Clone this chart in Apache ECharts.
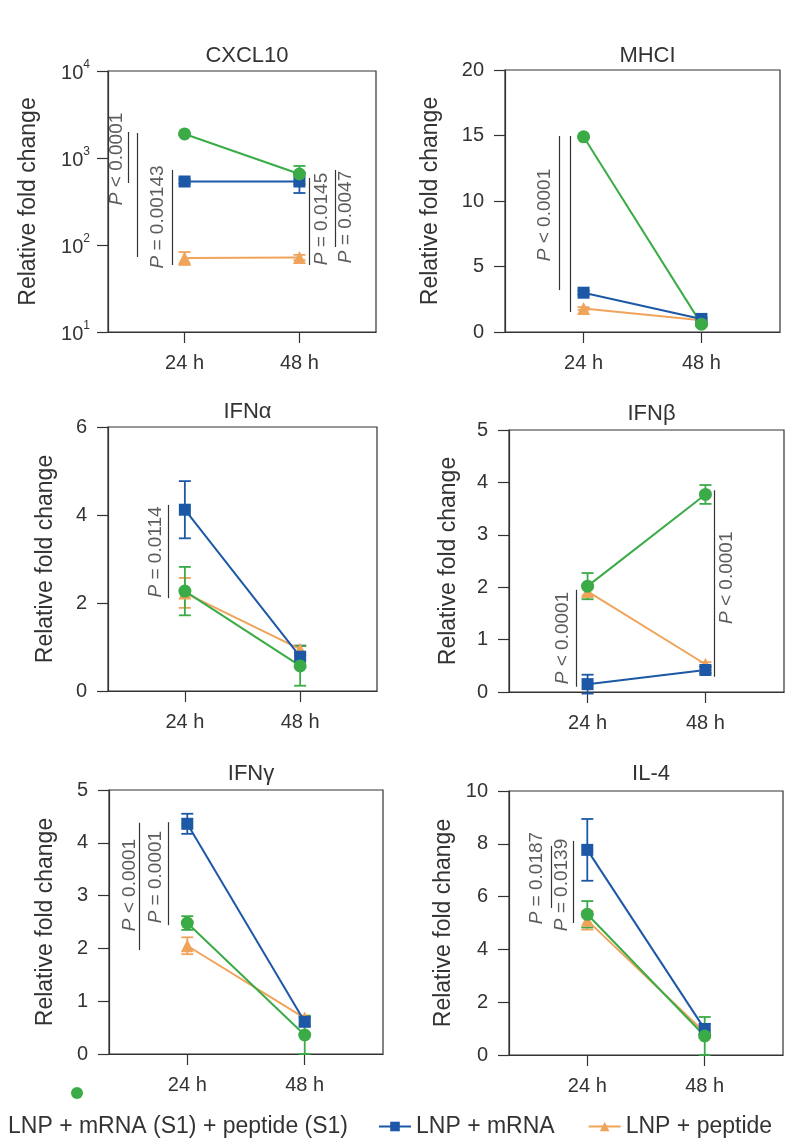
<!DOCTYPE html>
<html>
<head>
<meta charset="utf-8">
<script src="https://cdn.jsdelivr.net/npm/echarts@6/dist/echarts.min.js"></script>
<style>
  html, body { margin: 0; padding: 0; background: #fff; }
  #chart { width: 785px; height: 1146px; }
</style>
</head>
<body>
<div id="chart"></div>
<script>
var times = ['24 h', '48 h'];
var timeX = [1, 2];
var groupNames = ['LNP + mRNA (S1) + peptide (S1)', 'LNP + mRNA', 'LNP + peptide'];
var panelTitles = ['CXCL10', 'MHCI', 'IFNα', 'IFNβ', 'IFNγ', 'IL-4'];

// mean values [24 h, 48 h] per group: combo (green), mrna (blue), peptide (orange)
var cxcl10Combo = [1890, 655], cxcl10Mrna = [537, 537], cxcl10Pep = [71, 72];
var mhciCombo = [14.9, 0.6], mhciMrna = [3.0, 1.0], mhciPep = [1.8, 0.9];
var ifnaCombo = [2.27, 0.57], ifnaMrna = [4.12, 0.78], ifnaPep = [2.23, 0.95];
var ifnbCombo = [2.02, 3.77], ifnbMrna = [0.15, 0.42], ifnbPep = [1.92, 0.53];
var ifngCombo = [2.48, 0.36], ifngMrna = [4.36, 0.61], ifngPep = [2.05, 0.68];
var il4Combo = [5.33, 0.72], il4Mrna = [7.77, 0.98], il4Pep = [5.1, 0.85];

// s.e.m. [24 h, 48 h]
var cxcl10ComboErr = [60, 155], cxcl10MrnaErr = [30, 141], cxcl10PepErr = [12, 5];
var mhciComboErr = [0.1, 0.1], mhciMrnaErr = [0.15, 0.1], mhciPepErr = [0.1, 0.1];
var ifnaComboErr = [0.55, 0.45], ifnaMrnaErr = [0.65, 0.25], ifnaPepErr = [0.34, 0.08];
var ifnbComboErr = [0.25, 0.18], ifnbMrnaErr = [0.18, 0.06], ifnbPepErr = [0.08, 0.04];
var ifngComboErr = [0.13, 0.36], ifngMrnaErr = [0.19, 0.08], ifngPepErr = [0.16, 0.05];
var il4ComboErr = [0.5, 0.72], il4MrnaErr = [1.17, 0.2], il4PepErr = [0.35, 0.1];

// y axis ranges
var yMax = [10000, 20, 6, 5, 5, 10];
var yStep = [null, 5, 2, 1, 1, 2];

// significance bars [x, yFrom, yTo] and labels [x, y, text]
var cxcl10Bars = [[0.507, 1991, 516], [0.586, 1936, 72.8], [0.890, 728, 58.9], [2.083, 589, 58.9], [2.309, 728, 94.8]];
var cxcl10Labels = [[0.412, 975, 'P < 0.0001'], [0.768, 210, 'P = 0.00143'], [2.196, 199, 'P = 0.0145'], [2.405, 210, 'P = 0.0047']];
var mhciBars = [[0.791, 14.96, 3.2], [0.885, 14.96, 1.53]];
var mhciLabels = [[0.673, 8.93, 'P < 0.0001']];
var ifnaBars = [[0.854, 4.23, 2.11]];
var ifnaLabels = [[0.750, 3.16, 'P = 0.0114']];
var ifnbBars = [[0.902, 1.95, 0.1], [2.072, 3.85, 0.29]];
var ifnbLabels = [[0.791, 1.03, 'P < 0.0001'], [2.182, 2.18, 'P < 0.0001']];
var ifngBars = [[0.589, 4.38, 1.97], [0.836, 4.39, 2.44]];
var ifngLabels = [[0.512, 3.2, 'P < 0.0001'], [0.734, 3.35, 'P = 0.0001']];
var il4Bars = [[0.691, 7.92, 5.57], [0.878, 8.11, 5.0]];
var il4Labels = [[0.572, 6.70, 'P = 0.0187'], [0.785, 6.44, 'P = 0.0139']];

var panels = [
  { combo: cxcl10Combo, mrna: cxcl10Mrna, pep: cxcl10Pep, comboErr: cxcl10ComboErr, mrnaErr: cxcl10MrnaErr, pepErr: cxcl10PepErr, bars: cxcl10Bars, labels: cxcl10Labels },
  { combo: mhciCombo, mrna: mhciMrna, pep: mhciPep, comboErr: mhciComboErr, mrnaErr: mhciMrnaErr, pepErr: mhciPepErr, bars: mhciBars, labels: mhciLabels },
  { combo: ifnaCombo, mrna: ifnaMrna, pep: ifnaPep, comboErr: ifnaComboErr, mrnaErr: ifnaMrnaErr, pepErr: ifnaPepErr, bars: ifnaBars, labels: ifnaLabels },
  { combo: ifnbCombo, mrna: ifnbMrna, pep: ifnbPep, comboErr: ifnbComboErr, mrnaErr: ifnbMrnaErr, pepErr: ifnbPepErr, bars: ifnbBars, labels: ifnbLabels },
  { combo: ifngCombo, mrna: ifngMrna, pep: ifngPep, comboErr: ifngComboErr, mrnaErr: ifngMrnaErr, pepErr: ifngPepErr, bars: ifngBars, labels: ifngLabels },
  { combo: il4Combo, mrna: il4Mrna, pep: il4Pep, comboErr: il4ComboErr, mrnaErr: il4MrnaErr, pepErr: il4PepErr, bars: il4Bars, labels: il4Labels }
];

// layout
var grids = [
  { left: 108, top: 71, width: 268, height: 261 },
  { left: 505, top: 70, width: 275, height: 262 },
  { left: 108, top: 427, width: 269, height: 264 },
  { left: 509, top: 430, width: 275, height: 262 },
  { left: 109, top: 790, width: 274, height: 264 },
  { left: 509, top: 791, width: 274, height: 264 }
];
var nameGaps = [68, 63, 51, 49, 52, 54];
var titleTops = [40, 40, 396, 398, 758, 758];

var FONT = 'Liberation Sans, Arial, sans-serif';
var INK = '#333';
var GREEN = '#3aab47', BLUE = '#1c58a6', ORANGE = '#f0a35a';

var chart = echarts.init(document.getElementById('chart'), null, { renderer: 'canvas' });

function errorSeries(gi, color, means, errs) {
  return {
    type: 'custom',
    name: 'err' + gi + color,
    xAxisIndex: gi, yAxisIndex: gi,
    silent: true, animation: false, z: 2,
    data: means.map(function (m, k) { return [timeX[k], m - errs[k], m + errs[k]]; }),
    encode: { x: 0, y: [1, 2] },
    renderItem: function (params, api) {
      var lo = api.coord([api.value(0), api.value(1)]);
      var hi = api.coord([api.value(0), api.value(2)]);
      var w = 6;
      var st = { stroke: color, lineWidth: 1.8 };
      return {
        type: 'group',
        children: [
          { type: 'line', shape: { x1: lo[0], y1: lo[1], x2: hi[0], y2: hi[1] }, style: st },
          { type: 'line', shape: { x1: lo[0] - w, y1: lo[1], x2: lo[0] + w, y2: lo[1] }, style: st },
          { type: 'line', shape: { x1: hi[0] - w, y1: hi[1], x2: hi[0] + w, y2: hi[1] }, style: st }
        ]
      };
    }
  };
}

function lineSeries(gi, name, color, symbol, size, means) {
  return {
    type: 'line',
    name: name,
    xAxisIndex: gi, yAxisIndex: gi,
    data: means.map(function (m, k) { return [timeX[k], m]; }),
    symbol: symbol, symbolSize: size,
    itemStyle: { color: color },
    lineStyle: { color: color, width: 2 },
    z: 3, animation: false
  };
}

var option = {
  textStyle: { fontFamily: FONT },
  animation: false,
  title: [], grid: [], xAxis: [], yAxis: [], series: [],
  legend: [
    {
      data: [{ name: groupNames[0], icon: 'circle' }],
      left: 71, top: 1087, padding: 0,
      itemWidth: 12, itemHeight: 12,
      formatter: function () { return ''; },
      selectedMode: false
    },
    {
      data: [{ name: groupNames[0], icon: 'rect', itemStyle: { color: 'rgba(0,0,0,0)', opacity: 0 }, lineStyle: { opacity: 0 } }],
      left: 3, top: 1115, padding: 0,
      itemWidth: 0, itemHeight: 12,
      selectedMode: false,
      textStyle: { fontSize: 23, color: INK, fontFamily: FONT }
    },
    {
      data: [groupNames[1], groupNames[2]],
      left: 378, top: 1115, padding: 0,
      itemWidth: 32, itemHeight: 12, itemGap: 33,
      selectedMode: false,
      textStyle: { fontSize: 23, color: INK, fontFamily: FONT }
    }
  ]
};

panels.forEach(function (p, i) {
  var g = grids[i];
  option.grid.push({
    left: g.left, top: g.top, width: g.width, height: g.height,
    show: true, borderColor: '#333', borderWidth: 1.2, containLabel: false
  });
  option.title.push({
    text: panelTitles[i],
    left: g.left + g.width / 2, top: titleTops[i],
    textAlign: 'center',
    textStyle: { fontSize: 22, fontWeight: 'normal', color: INK, fontFamily: FONT }
  });
  option.xAxis.push({
    type: 'value', gridIndex: i, min: 1 / 3, max: 8 / 3,
    splitLine: { show: false },
    axisLine: { show: true, onZero: false, lineStyle: { color: '#333', width: 1.2 } },
    axisTick: { show: true, customValues: timeX, length: 11, lineStyle: { color: '#333', width: 1.2 } },
    axisLabel: {
      customValues: timeX, margin: 21, fontSize: 20, color: INK, fontFamily: FONT,
      formatter: function (v) { return times[Math.round(v) - 1]; }
    }
  });
  var y = {
    gridIndex: i,
    name: 'Relative fold change', nameLocation: 'middle', nameGap: nameGaps[i],
    nameTextStyle: { fontSize: 23, color: INK, fontFamily: FONT },
    splitLine: { show: false },
    axisLine: { show: true, onZero: false, lineStyle: { color: '#333', width: 1.2 } },
    axisTick: { show: true, length: 11, lineStyle: { color: '#333', width: 1.2 } },
    axisLabel: { fontSize: 20, color: INK, margin: 21, fontFamily: FONT }
  };
  if (i === 0) {
    y.type = 'log'; y.logBase = 10; y.min = 10; y.max = yMax[0];
    y.axisLabel.margin = 18;
    y.axisLabel.formatter = function (v) {
      return '{b|10}{s|' + Math.round(Math.log10(v)) + '}';
    };
    y.axisLabel.rich = {
      b: { fontSize: 20, lineHeight: 24, color: INK, fontFamily: FONT, verticalAlign: 'bottom' },
      s: { fontSize: 12, lineHeight: 24, color: INK, fontFamily: FONT, verticalAlign: 'top', padding: [0, 0, 12, 0] }
    };
  } else {
    y.type = 'value'; y.min = 0; y.max = yMax[i]; y.interval = yStep[i];
  }
  option.yAxis.push(y);

  option.series.push(errorSeries(i, ORANGE, p.pep, p.pepErr));
  option.series.push(errorSeries(i, BLUE, p.mrna, p.mrnaErr));
  option.series.push(errorSeries(i, GREEN, p.combo, p.comboErr));
  option.series.push(lineSeries(i, groupNames[2], ORANGE, 'triangle', 13, p.pep));
  option.series.push(lineSeries(i, groupNames[1], BLUE, 'rect', 12, p.mrna));
  option.series.push(lineSeries(i, groupNames[0], GREEN, 'circle', 13, p.combo));

  option.series.push({
    type: 'scatter', name: 'stats' + i,
    xAxisIndex: i, yAxisIndex: i,
    symbolSize: 0, silent: true, animation: false, z: 4,
    data: p.labels.map(function (l) {
      return { value: [l[0], l[1]], label: { formatter: l[2].replace(/^P/, '{i|P}') } };
    }),
    label: {
      show: true, position: 'inside', rotate: 90,
      fontSize: 19, color: INK, fontFamily: FONT,
      rich: { i: { fontStyle: 'italic', fontSize: 19, color: INK, fontFamily: FONT } }
    },
    markLine: {
      silent: true, animation: false,
      symbol: ['none', 'none'],
      label: { show: false },
      lineStyle: { color: INK, width: 1.2, type: 'solid' },
      data: p.bars.map(function (b) { return [{ coord: [b[0], b[1]] }, { coord: [b[0], b[2]] }]; })
    }
  });
});

chart.setOption(option);
</script>
</body>
</html>
